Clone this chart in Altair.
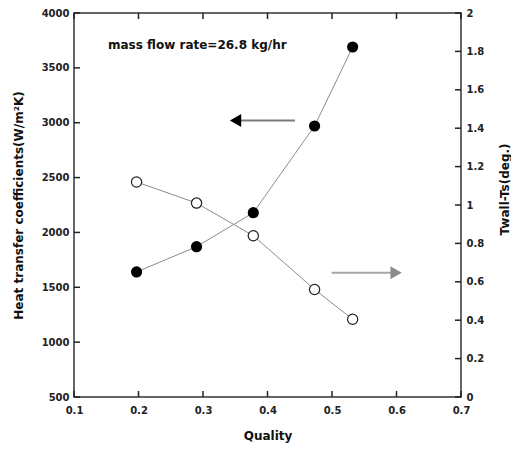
import altair as alt
import pandas as pd

# Data
quality = [0.197, 0.290, 0.378, 0.473, 0.532]
htc = [1640, 1870, 2180, 2970, 3690]          # left axis, W/m2K (filled circles)
dT = [1.12, 1.01, 0.84, 0.56, 0.405]          # right axis, deg (open circles)

x_ticks = [0.1, 0.2, 0.3, 0.4, 0.5, 0.6, 0.7]
left_ticks = [500, 1000, 1500, 2000, 2500, 3000, 3500, 4000]
right_ticks = [0, 0.2, 0.4, 0.6, 0.8, 1.0, 1.2, 1.4, 1.6, 1.8, 2.0]

annotation = "mass flow rate=26.8 kg/hr"
ann_x, ann_y = [0.1527], [3709]

# arrows: black points to left axis, grey points to right axis
black_arrow_x = [0.3505, 0.4426]
black_arrow_y = [3020, 3020]
grey_arrow_x = [0.4995, 0.5994]
grey_arrow_y = [0.647, 0.647]

FONT = "DejaVu Sans"
W, H, TK = 387, 384, 6

df = pd.DataFrame({"quality": quality, "htc": htc, "dT": dT})
df_black = pd.DataFrame({"x": black_arrow_x, "y": black_arrow_y})
df_grey = pd.DataFrame({"x": grey_arrow_x, "y": grey_arrow_y})
df_ann = pd.DataFrame({"x": ann_x, "y": ann_y, "t": [annotation]})
df_xt = pd.DataFrame({"v": x_ticks})
df_lt = pd.DataFrame({"v": left_ticks})
df_rt = pd.DataFrame({"v": right_ticks})

xscale = alt.Scale(domain=[0.1, 0.7], nice=False, zero=False)
lscale = alt.Scale(domain=[500, 4000], nice=False, zero=False)
rscale = alt.Scale(domain=[0, 2], nice=False, zero=False)

common_axis = dict(
    domain=False, grid=False, ticks=False, labelFont=FONT,
    labelFontWeight="bold", labelFontSize=10, labelColor="#222222",
    titleFont=FONT, titleFontWeight="bold", titleFontSize=12,
    titleColor="#111111", labelFlush=False, labelOverlap=False,
)

x_axis = alt.Axis(orient="bottom", values=x_ticks, format=".1f", title="Quality",
                  labelPadding=8, titlePadding=15, **common_axis)
l_axis = alt.Axis(orient="left", values=left_ticks, format="d",
                  title="Heat transfer coefficients(W/m²K)", labelPadding=5,
                  titlePadding=16, **common_axis)
r_axis = alt.Axis(orient="right", values=right_ticks, format="~g",
                  title="Twall-Ts(deg.)", titleAngle=270, titleY=176,
                  labelPadding=5, titlePadding=28, **common_axis)


def X(f):
    return alt.X(f, scale=xscale, axis=x_axis)


def YL(f):
    return alt.Y(f, scale=lscale, axis=l_axis)


def YR(f):
    return alt.Y(f, scale=rscale, axis=r_axis)


tick_style = dict(color="#222222", strokeWidth=1.5)

# ---- left-axis group ----
left_line = alt.Chart(df).mark_line(color="#8c8c8c", strokeWidth=1).encode(
    x=X("quality:Q"), y=YL("htc:Q"))
left_pts = alt.Chart(df).mark_point(shape="circle", filled=True, size=125, color="black",
                                    opacity=1).encode(x=X("quality:Q"), y=YL("htc:Q"))
black_line = alt.Chart(df_black).mark_line(color="#7a7a7a", strokeWidth=2).encode(
    x=X("x:Q"), y=YL("y:Q"))
black_head = alt.Chart(df_black).transform_filter("datum.x < 0.4").mark_point(
    shape="triangle-left", filled=True, size=170, color="black", opacity=1).encode(
    x=X("x:Q"), y=YL("y:Q"))
ann = alt.Chart(df_ann).mark_text(align="left", baseline="middle", font=FONT,
                                  fontWeight="bold", fontSize=12, color="#111111").encode(
    x=X("x:Q"), y=YL("y:Q"), text="t:N")
lticks = alt.Chart(df_lt).mark_rule(**tick_style).encode(
    y=YL("v:Q"), x=alt.value(0), x2=alt.value(TK))
bticks = alt.Chart(df_xt).mark_rule(**tick_style).encode(
    x=X("v:Q"), y=alt.value(H), y2=alt.value(H - TK))
tticks = alt.Chart(df_xt).mark_rule(**tick_style).encode(
    x=X("v:Q"), y=alt.value(0), y2=alt.value(TK))

left = alt.layer(left_line, left_pts, black_line, black_head, ann, lticks, bticks, tticks)

# ---- right-axis group ----
right_line = alt.Chart(df).mark_line(color="#8c8c8c", strokeWidth=1).encode(
    x=X("quality:Q"), y=YR("dT:Q"))
right_pts = alt.Chart(df).mark_point(shape="circle", filled=True, size=105, fill="white",
                                     stroke="#222222", strokeWidth=1.2, opacity=1).encode(
    x=X("quality:Q"), y=YR("dT:Q"))
grey_line = alt.Chart(df_grey).mark_line(color="#a6a6a6", strokeWidth=2).encode(
    x=X("x:Q"), y=YR("y:Q"))
grey_head = alt.Chart(df_grey).transform_filter("datum.x > 0.55").mark_point(
    shape="triangle-right", filled=True, size=170, color="#8c8c8c", opacity=1).encode(
    x=X("x:Q"), y=YR("y:Q"))
rticks = alt.Chart(df_rt).mark_rule(**tick_style).encode(
    y=YR("v:Q"), x=alt.value(W), x2=alt.value(W - TK))

right = alt.layer(right_line, right_pts, grey_line, grey_head, rticks)

chart = alt.layer(left, right).resolve_scale(y="independent").properties(
    width=W, height=H,
    autosize=alt.AutoSizeParams(type="none"),
    padding={"left": 66, "top": 5, "right": 50, "bottom": 46},
    background="white",
).configure_view(stroke="#333333", strokeWidth=1.5)

chart.save("out.html", embed_options={"renderer": "svg", "actions": False})
